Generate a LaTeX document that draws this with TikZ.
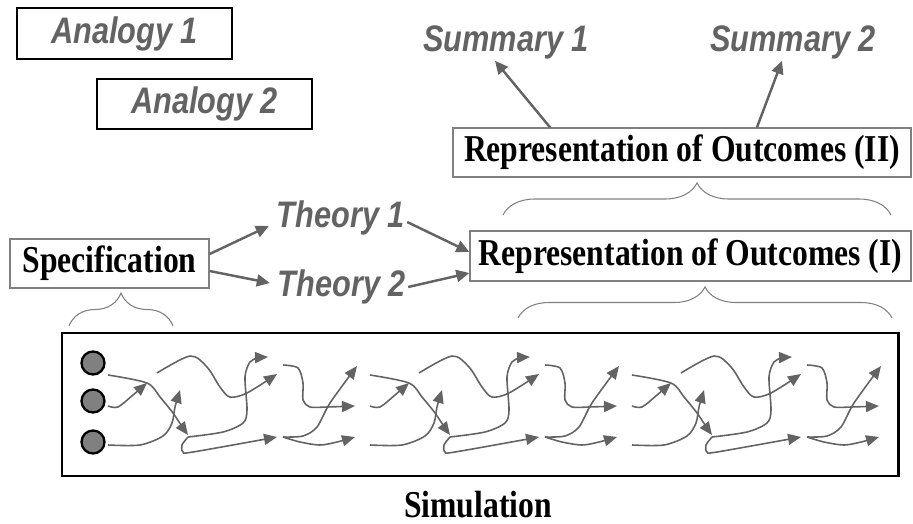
\documentclass[tikz,border=0pt]{standalone}
\usepackage{fontspec}
\setmainfont{Liberation Serif}
\setsansfont{Liberation Sans}
\usepackage{tikz}
\usetikzlibrary{arrows.meta,decorations.pathreplacing}
\definecolor{inkgray}{HTML}{636363}
\definecolor{linegray}{HTML}{808080}
\newcommand{\tall}[1]{\scalebox{1}[1.2]{#1}}
\begin{document}
\begin{tikzpicture}[x=0.02cm,y=-0.02cm,
  gtext/.style={text=inkgray,inner sep=1pt,font=\fontsize{17.5}{20}\selectfont\sffamily\bfseries\itshape},
  btext/.style={text=black,font=\fontsize{18}{20}\selectfont\bfseries},
  thinbox/.style={btext,draw=linegray,line width=0.8pt,inner sep=0pt},
  thickbox/.style={gtext,draw=black,line width=1.3pt,inner sep=0pt},
  link/.style={draw=inkgray,line width=1.4pt,-{Triangle[length=0.26cm,width=0.24cm]}},
  flow/.style={draw=inkgray,line width=0.9pt,-{Triangle[length=0.26cm,width=0.22cm]}},
  brc/.style={draw=linegray,line width=0.6pt,decorate,decoration={brace,amplitude=#1}},
  dot/.style={circle,fill=linegray,draw=black,line width=1.3pt,minimum size=0.46cm,inner sep=0pt}]
\useasboundingbox (0,0) rectangle (913,524);
\node[thickbox,minimum width=4.3cm,minimum height=1.02cm] (ana1) at (124.5,33.5) {\tall{Analogy 1}};
\node[thickbox,minimum width=4.3cm,minimum height=1cm] (ana2) at (204.5,104) {\tall{Analogy 2}};
\node[gtext] (sum1) at (506,42) {\tall{Summary 1}};
\node[gtext] (sum2) at (793,42) {\tall{Summary 2}};
\node[thinbox,minimum width=9.16cm,minimum height=0.98cm] (rep2) at (682,152.5) {\tall{Representation of Outcomes (II)}};
\node[thinbox,minimum width=8.82cm,minimum height=1cm] (rep1) at (690.5,256) {\tall{Representation of Outcomes (I)}};
\node[thinbox,minimum width=3.98cm,minimum height=0.98cm] (spec) at (109.5,263.5) {\tall{Specification}};
\node[gtext] (th1) at (341,218) {\tall{Theory 1}};
\node[gtext] (th2) at (342,287) {\tall{Theory 2}};
\node[btext] (sim) at (478,505) {\tall{Simulation}};
% arrows between the levels
\draw[link] ([yshift=0.19cm]spec.east) -- ([xshift=-0.12cm,yshift=-0.16cm]th1.west);
\draw[link] ([yshift=-0.15cm]spec.east) -- ([xshift=-0.12cm,yshift=0.08cm]th2.west);
\draw[link] ([yshift=-0.08cm]th1.east) -- ([yshift=0.08cm]rep1.west);
\draw[link] (th2.east) -- ([yshift=-0.34cm]rep1.west);
\draw[link] ([xshift=-2.64cm]rep2.north) -- ([xshift=-0.22cm]sum1.south);
\draw[link] ([xshift=1.5cm]rep2.north) -- ([xshift=-0.22cm]sum2.south);
% braces
\draw[brc=0.66cm] (69,326) -- (173,326);
\draw[brc=0.64cm] (503,215) -- (891,215);
\draw[brc=0.62cm] (518,318) -- (892,318);
% simulation box
\draw[line width=1.7pt] (62,333) rectangle (898,476);
\node[dot] (c1) at (93,363) {};
\node[dot] (c2) at (93,401) {};
\node[dot] (c3) at (93,442) {};
\foreach \k in {0,1,2}{
\begin{scope}[shift={(262*\k,0)}]
  \draw[flow] plot[smooth] coordinates {(108,375) (147,383) (160,397) (173,413) (183,428) (188,435)};
  \draw[flow] plot[smooth] coordinates {(108,406) (118,407) (133,395) (147,383)};
  \draw[flow] plot[smooth] coordinates {(108,445) (140,445) (163,436) (172,423) (175,407) (180,390)};
  \draw[flow] plot[smooth] coordinates {(157,373) (190,356) (207,367) (220,387) (230,397) (247,393) (277,374)};
  \draw[flow] plot[smooth] coordinates {(188,437) (223,432) (243,423) (247,410) (245,377) (250,362) (258,358) (268,357)};
  \draw[flow] plot[smooth] coordinates {(188,437) (182,445) (183,452) (193,452) (277,437)};
  \draw[flow] plot[smooth] coordinates {(283,365) (298,368) (303,383) (303,400) (310,407) (327,407) (355,406)};
  \draw[flow] plot[smooth] coordinates {(283,437) (303,436) (317,427) (330,403) (357,366)};
  \draw[flow] plot[smooth] coordinates {(283,437) (300,442) (320,445) (337,442) (355,437)};
\end{scope}
}
\end{tikzpicture}
\end{document}
